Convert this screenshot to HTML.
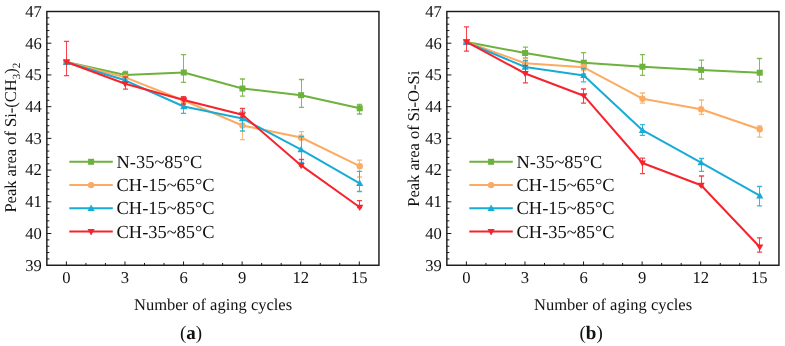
<!DOCTYPE html>
<html><head><meta charset="utf-8"><style>
html,body{margin:0;padding:0;background:#fff;width:785px;height:346px;overflow:hidden}
svg{display:block;will-change:transform}
text{font-family:"Liberation Serif",serif;fill:#111;text-rendering:geometricPrecision}
</style></head><body>
<svg width="785" height="346" viewBox="0 0 785 346" font-family='"Liberation Serif", serif' fill="#111">
<g transform="translate(0,0)">
<path d="M125.50,71.50V77.00" stroke="#6db23c" stroke-width="1.0" stroke-opacity="0.85" fill="none"/><path d="M122.90,71.50H128.10M122.90,77.00H128.10" stroke="#6db23c" stroke-width="1.3" stroke-opacity="0.85" fill="none"/>
<path d="M183.50,54.70V82.40" stroke="#6db23c" stroke-width="1.0" stroke-opacity="0.85" fill="none"/><path d="M180.90,54.70H186.10M180.90,82.40H186.10" stroke="#6db23c" stroke-width="1.3" stroke-opacity="0.85" fill="none"/>
<path d="M242.50,79.00V96.20" stroke="#6db23c" stroke-width="1.0" stroke-opacity="0.85" fill="none"/><path d="M239.90,79.00H245.10M239.90,96.20H245.10" stroke="#6db23c" stroke-width="1.3" stroke-opacity="0.85" fill="none"/>
<path d="M301.50,79.50V107.30" stroke="#6db23c" stroke-width="1.0" stroke-opacity="0.85" fill="none"/><path d="M298.90,79.50H304.10M298.90,107.30H304.10" stroke="#6db23c" stroke-width="1.3" stroke-opacity="0.85" fill="none"/>
<path d="M359.50,104.50V114.00" stroke="#6db23c" stroke-width="1.0" stroke-opacity="0.85" fill="none"/><path d="M356.90,104.50H362.10M356.90,114.00H362.10" stroke="#6db23c" stroke-width="1.3" stroke-opacity="0.85" fill="none"/>
<polyline points="66.50,62.00 125.15,75.00 183.80,72.50 242.45,88.50 301.10,95.20 359.75,108.30" fill="none" stroke="#6db23c" stroke-width="2.0" stroke-linejoin="round"/>
<rect x="63.50" y="59.00" width="6.00" height="6.00" fill="#6db23c"/>
<rect x="122.15" y="72.00" width="6.00" height="6.00" fill="#6db23c"/>
<rect x="180.80" y="69.50" width="6.00" height="6.00" fill="#6db23c"/>
<rect x="239.45" y="85.50" width="6.00" height="6.00" fill="#6db23c"/>
<rect x="298.10" y="92.20" width="6.00" height="6.00" fill="#6db23c"/>
<rect x="356.75" y="105.30" width="6.00" height="6.00" fill="#6db23c"/>
<path d="M183.50,97.50V104.00" stroke="#fbab62" stroke-width="1.0" stroke-opacity="0.85" fill="none"/><path d="M180.90,97.50H186.10M180.90,104.00H186.10" stroke="#fbab62" stroke-width="1.3" stroke-opacity="0.85" fill="none"/>
<path d="M242.50,116.00V139.70" stroke="#fbab62" stroke-width="1.0" stroke-opacity="0.85" fill="none"/><path d="M239.90,116.00H245.10M239.90,139.70H245.10" stroke="#fbab62" stroke-width="1.3" stroke-opacity="0.85" fill="none"/>
<path d="M301.50,131.60V140.00" stroke="#fbab62" stroke-width="1.0" stroke-opacity="0.85" fill="none"/><path d="M298.90,131.60H304.10M298.90,140.00H304.10" stroke="#fbab62" stroke-width="1.3" stroke-opacity="0.85" fill="none"/>
<path d="M359.50,160.10V177.00" stroke="#fbab62" stroke-width="1.0" stroke-opacity="0.85" fill="none"/><path d="M356.90,160.10H362.10M356.90,177.00H362.10" stroke="#fbab62" stroke-width="1.3" stroke-opacity="0.85" fill="none"/>
<polyline points="66.50,62.00 125.15,77.40 183.80,100.50 242.45,125.50 301.10,137.50 359.75,166.20" fill="none" stroke="#fbab62" stroke-width="2.0" stroke-linejoin="round"/>
<circle cx="66.50" cy="62.00" r="3.20" fill="#fbab62"/>
<circle cx="125.15" cy="77.40" r="3.20" fill="#fbab62"/>
<circle cx="183.80" cy="100.50" r="3.20" fill="#fbab62"/>
<circle cx="242.45" cy="125.50" r="3.20" fill="#fbab62"/>
<circle cx="301.10" cy="137.50" r="3.20" fill="#fbab62"/>
<circle cx="359.75" cy="166.20" r="3.20" fill="#fbab62"/>
<path d="M183.50,97.50V113.40" stroke="#17acd6" stroke-width="1.0" stroke-opacity="0.85" fill="none"/><path d="M180.90,97.50H186.10M180.90,113.40H186.10" stroke="#17acd6" stroke-width="1.3" stroke-opacity="0.85" fill="none"/>
<path d="M242.50,111.20V131.00" stroke="#17acd6" stroke-width="1.0" stroke-opacity="0.85" fill="none"/><path d="M239.90,111.20H245.10M239.90,131.00H245.10" stroke="#17acd6" stroke-width="1.3" stroke-opacity="0.85" fill="none"/>
<path d="M301.50,136.60V162.50" stroke="#17acd6" stroke-width="1.0" stroke-opacity="0.85" fill="none"/><path d="M298.90,136.60H304.10M298.90,162.50H304.10" stroke="#17acd6" stroke-width="1.3" stroke-opacity="0.85" fill="none"/>
<path d="M359.50,171.30V191.50" stroke="#17acd6" stroke-width="1.0" stroke-opacity="0.85" fill="none"/><path d="M356.90,171.30H362.10M356.90,191.50H362.10" stroke="#17acd6" stroke-width="1.3" stroke-opacity="0.85" fill="none"/>
<polyline points="66.50,62.30 125.15,80.30 183.80,106.50 242.45,118.50 301.10,149.60 359.75,183.40" fill="none" stroke="#17acd6" stroke-width="2.0" stroke-linejoin="round"/>
<path d="M62.90,65.00L70.10,65.00L66.50,58.60Z" fill="#17acd6"/>
<path d="M121.55,83.00L128.75,83.00L125.15,76.60Z" fill="#17acd6"/>
<path d="M180.20,109.20L187.40,109.20L183.80,102.80Z" fill="#17acd6"/>
<path d="M238.85,121.20L246.05,121.20L242.45,114.80Z" fill="#17acd6"/>
<path d="M297.50,152.30L304.70,152.30L301.10,145.90Z" fill="#17acd6"/>
<path d="M356.15,186.10L363.35,186.10L359.75,179.70Z" fill="#17acd6"/>
<path d="M66.50,41.40V75.60" stroke="#f7232c" stroke-width="1.0" stroke-opacity="0.85" fill="none"/><path d="M63.90,41.40H69.10M63.90,75.60H69.10" stroke="#f7232c" stroke-width="1.3" stroke-opacity="0.85" fill="none"/>
<path d="M125.50,77.00V89.10" stroke="#f7232c" stroke-width="1.0" stroke-opacity="0.85" fill="none"/><path d="M122.90,77.00H128.10M122.90,89.10H128.10" stroke="#f7232c" stroke-width="1.3" stroke-opacity="0.85" fill="none"/>
<path d="M183.50,96.70V104.00" stroke="#f7232c" stroke-width="1.0" stroke-opacity="0.85" fill="none"/><path d="M180.90,96.70H186.10M180.90,104.00H186.10" stroke="#f7232c" stroke-width="1.3" stroke-opacity="0.85" fill="none"/>
<path d="M242.50,108.50V117.00" stroke="#f7232c" stroke-width="1.0" stroke-opacity="0.85" fill="none"/><path d="M239.90,108.50H245.10M239.90,117.00H245.10" stroke="#f7232c" stroke-width="1.3" stroke-opacity="0.85" fill="none"/>
<path d="M301.50,159.50V166.00" stroke="#f7232c" stroke-width="1.0" stroke-opacity="0.85" fill="none"/><path d="M298.90,159.50H304.10M298.90,166.00H304.10" stroke="#f7232c" stroke-width="1.3" stroke-opacity="0.85" fill="none"/>
<path d="M359.50,200.70V207.50" stroke="#f7232c" stroke-width="1.0" stroke-opacity="0.85" fill="none"/><path d="M356.90,200.70H362.10M356.90,207.50H362.10" stroke="#f7232c" stroke-width="1.3" stroke-opacity="0.85" fill="none"/>
<polyline points="66.50,62.00 125.15,83.80 183.80,100.00 242.45,114.80 301.10,165.40 359.75,207.30" fill="none" stroke="#f7232c" stroke-width="2.0" stroke-linejoin="round"/>
<path d="M62.90,59.50L70.10,59.50L66.50,65.80Z" fill="#f7232c"/>
<path d="M121.55,81.30L128.75,81.30L125.15,87.60Z" fill="#f7232c"/>
<path d="M180.20,97.50L187.40,97.50L183.80,103.80Z" fill="#f7232c"/>
<path d="M238.85,112.30L246.05,112.30L242.45,118.60Z" fill="#f7232c"/>
<path d="M297.50,162.90L304.70,162.90L301.10,169.20Z" fill="#f7232c"/>
<path d="M356.15,204.80L363.35,204.80L359.75,211.10Z" fill="#f7232c"/>
<rect x="46.85" y="11.5" width="332.09999999999997" height="253.75" fill="none" stroke="#1a1a1a" stroke-width="1.45"/>
<text x="41.9" y="270.65" text-anchor="end" font-size="16.6">39</text>
<line x1="46.85" y1="258.91" x2="49.35" y2="258.91" stroke="#1a1a1a" stroke-width="1"/>
<line x1="46.85" y1="252.56" x2="49.35" y2="252.56" stroke="#1a1a1a" stroke-width="1"/>
<line x1="46.85" y1="246.22" x2="49.35" y2="246.22" stroke="#1a1a1a" stroke-width="1"/>
<line x1="46.85" y1="239.88" x2="49.35" y2="239.88" stroke="#1a1a1a" stroke-width="1"/>
<line x1="46.85" y1="233.53" x2="51.35" y2="233.53" stroke="#1a1a1a" stroke-width="1"/>
<text x="41.9" y="238.93" text-anchor="end" font-size="16.6">40</text>
<line x1="46.85" y1="227.19" x2="49.35" y2="227.19" stroke="#1a1a1a" stroke-width="1"/>
<line x1="46.85" y1="220.84" x2="49.35" y2="220.84" stroke="#1a1a1a" stroke-width="1"/>
<line x1="46.85" y1="214.50" x2="49.35" y2="214.50" stroke="#1a1a1a" stroke-width="1"/>
<line x1="46.85" y1="208.16" x2="49.35" y2="208.16" stroke="#1a1a1a" stroke-width="1"/>
<line x1="46.85" y1="201.81" x2="51.35" y2="201.81" stroke="#1a1a1a" stroke-width="1"/>
<text x="41.9" y="207.21" text-anchor="end" font-size="16.6">41</text>
<line x1="46.85" y1="195.47" x2="49.35" y2="195.47" stroke="#1a1a1a" stroke-width="1"/>
<line x1="46.85" y1="189.13" x2="49.35" y2="189.13" stroke="#1a1a1a" stroke-width="1"/>
<line x1="46.85" y1="182.78" x2="49.35" y2="182.78" stroke="#1a1a1a" stroke-width="1"/>
<line x1="46.85" y1="176.44" x2="49.35" y2="176.44" stroke="#1a1a1a" stroke-width="1"/>
<line x1="46.85" y1="170.09" x2="51.35" y2="170.09" stroke="#1a1a1a" stroke-width="1"/>
<text x="41.9" y="175.49" text-anchor="end" font-size="16.6">42</text>
<line x1="46.85" y1="163.75" x2="49.35" y2="163.75" stroke="#1a1a1a" stroke-width="1"/>
<line x1="46.85" y1="157.41" x2="49.35" y2="157.41" stroke="#1a1a1a" stroke-width="1"/>
<line x1="46.85" y1="151.06" x2="49.35" y2="151.06" stroke="#1a1a1a" stroke-width="1"/>
<line x1="46.85" y1="144.72" x2="49.35" y2="144.72" stroke="#1a1a1a" stroke-width="1"/>
<line x1="46.85" y1="138.38" x2="51.35" y2="138.38" stroke="#1a1a1a" stroke-width="1"/>
<text x="41.9" y="143.78" text-anchor="end" font-size="16.6">43</text>
<line x1="46.85" y1="132.03" x2="49.35" y2="132.03" stroke="#1a1a1a" stroke-width="1"/>
<line x1="46.85" y1="125.69" x2="49.35" y2="125.69" stroke="#1a1a1a" stroke-width="1"/>
<line x1="46.85" y1="119.34" x2="49.35" y2="119.34" stroke="#1a1a1a" stroke-width="1"/>
<line x1="46.85" y1="113.00" x2="49.35" y2="113.00" stroke="#1a1a1a" stroke-width="1"/>
<line x1="46.85" y1="106.66" x2="51.35" y2="106.66" stroke="#1a1a1a" stroke-width="1"/>
<text x="41.9" y="112.06" text-anchor="end" font-size="16.6">44</text>
<line x1="46.85" y1="100.31" x2="49.35" y2="100.31" stroke="#1a1a1a" stroke-width="1"/>
<line x1="46.85" y1="93.97" x2="49.35" y2="93.97" stroke="#1a1a1a" stroke-width="1"/>
<line x1="46.85" y1="87.62" x2="49.35" y2="87.62" stroke="#1a1a1a" stroke-width="1"/>
<line x1="46.85" y1="81.28" x2="49.35" y2="81.28" stroke="#1a1a1a" stroke-width="1"/>
<line x1="46.85" y1="74.94" x2="51.35" y2="74.94" stroke="#1a1a1a" stroke-width="1"/>
<text x="41.9" y="80.34" text-anchor="end" font-size="16.6">45</text>
<line x1="46.85" y1="68.59" x2="49.35" y2="68.59" stroke="#1a1a1a" stroke-width="1"/>
<line x1="46.85" y1="62.25" x2="49.35" y2="62.25" stroke="#1a1a1a" stroke-width="1"/>
<line x1="46.85" y1="55.91" x2="49.35" y2="55.91" stroke="#1a1a1a" stroke-width="1"/>
<line x1="46.85" y1="49.56" x2="49.35" y2="49.56" stroke="#1a1a1a" stroke-width="1"/>
<line x1="46.85" y1="43.22" x2="51.35" y2="43.22" stroke="#1a1a1a" stroke-width="1"/>
<text x="41.9" y="48.62" text-anchor="end" font-size="16.6">46</text>
<line x1="46.85" y1="36.87" x2="49.35" y2="36.87" stroke="#1a1a1a" stroke-width="1"/>
<line x1="46.85" y1="30.53" x2="49.35" y2="30.53" stroke="#1a1a1a" stroke-width="1"/>
<line x1="46.85" y1="24.19" x2="49.35" y2="24.19" stroke="#1a1a1a" stroke-width="1"/>
<line x1="46.85" y1="17.84" x2="49.35" y2="17.84" stroke="#1a1a1a" stroke-width="1"/>
<text x="41.9" y="16.90" text-anchor="end" font-size="16.6">47</text>
<line x1="66.40" y1="265.25" x2="66.40" y2="261.45" stroke="#1a1a1a" stroke-width="1"/>
<text x="66.40" y="283.0" text-anchor="middle" font-size="16.6">0</text>
<line x1="85.93" y1="265.25" x2="85.93" y2="262.95" stroke="#1a1a1a" stroke-width="1"/>
<line x1="105.45" y1="265.25" x2="105.45" y2="262.95" stroke="#1a1a1a" stroke-width="1"/>
<line x1="124.98" y1="265.25" x2="124.98" y2="261.45" stroke="#1a1a1a" stroke-width="1"/>
<text x="124.98" y="283.0" text-anchor="middle" font-size="16.6">3</text>
<line x1="144.51" y1="265.25" x2="144.51" y2="262.95" stroke="#1a1a1a" stroke-width="1"/>
<line x1="164.04" y1="265.25" x2="164.04" y2="262.95" stroke="#1a1a1a" stroke-width="1"/>
<line x1="183.56" y1="265.25" x2="183.56" y2="261.45" stroke="#1a1a1a" stroke-width="1"/>
<text x="183.56" y="283.0" text-anchor="middle" font-size="16.6">6</text>
<line x1="203.09" y1="265.25" x2="203.09" y2="262.95" stroke="#1a1a1a" stroke-width="1"/>
<line x1="222.62" y1="265.25" x2="222.62" y2="262.95" stroke="#1a1a1a" stroke-width="1"/>
<line x1="242.14" y1="265.25" x2="242.14" y2="261.45" stroke="#1a1a1a" stroke-width="1"/>
<text x="242.14" y="283.0" text-anchor="middle" font-size="16.6">9</text>
<line x1="261.67" y1="265.25" x2="261.67" y2="262.95" stroke="#1a1a1a" stroke-width="1"/>
<line x1="281.20" y1="265.25" x2="281.20" y2="262.95" stroke="#1a1a1a" stroke-width="1"/>
<line x1="300.72" y1="265.25" x2="300.72" y2="261.45" stroke="#1a1a1a" stroke-width="1"/>
<text x="300.72" y="283.0" text-anchor="middle" font-size="16.6">12</text>
<line x1="320.25" y1="265.25" x2="320.25" y2="262.95" stroke="#1a1a1a" stroke-width="1"/>
<line x1="339.78" y1="265.25" x2="339.78" y2="262.95" stroke="#1a1a1a" stroke-width="1"/>
<line x1="359.31" y1="265.25" x2="359.31" y2="261.45" stroke="#1a1a1a" stroke-width="1"/>
<text x="359.31" y="283.0" text-anchor="middle" font-size="16.6">15</text>
<text x="213.1" y="309.6" text-anchor="middle" font-size="16.5">Number of aging cycles</text>
<text x="191.1" y="338.6" text-anchor="middle" font-size="19">(<tspan font-weight="bold">a</tspan>)</text>
<text transform="translate(16,137.7) rotate(-90)" text-anchor="middle" font-size="16.5">Peak area of Si-(CH<tspan font-size="11" dy="3.5">3</tspan><tspan dy="-3.5">)</tspan><tspan font-size="11" dy="3.5">2</tspan></text>
<line x1="69.3" y1="161.8" x2="112.8" y2="161.8" stroke="#6db23c" stroke-width="2.0"/>
<rect x="88.10" y="158.80" width="6.00" height="6.00" fill="#6db23c"/>
<text x="116.6" y="167.90" font-size="18.4">N-35~85°C</text>
<line x1="69.3" y1="185.1" x2="112.8" y2="185.1" stroke="#fbab62" stroke-width="2.0"/>
<circle cx="91.10" cy="185.10" r="3.20" fill="#fbab62"/>
<text x="116.6" y="191.20" font-size="18.4">CH-15~65°C</text>
<line x1="69.3" y1="208.3" x2="112.8" y2="208.3" stroke="#17acd6" stroke-width="2.0"/>
<path d="M87.50,211.00L94.70,211.00L91.10,204.60Z" fill="#17acd6"/>
<text x="116.6" y="214.40" font-size="18.4">CH-15~85°C</text>
<line x1="69.3" y1="231.6" x2="112.8" y2="231.6" stroke="#f7232c" stroke-width="2.0"/>
<path d="M87.50,229.10L94.70,229.10L91.10,235.40Z" fill="#f7232c"/>
<text x="116.6" y="237.70" font-size="18.4">CH-35~85°C</text>
</g>
<g transform="translate(400,0)">
<path d="M125.50,47.20V58.00" stroke="#6db23c" stroke-width="1.0" stroke-opacity="0.85" fill="none"/><path d="M122.90,47.20H128.10M122.90,58.00H128.10" stroke="#6db23c" stroke-width="1.3" stroke-opacity="0.85" fill="none"/>
<path d="M183.50,52.60V74.00" stroke="#6db23c" stroke-width="1.0" stroke-opacity="0.85" fill="none"/><path d="M180.90,52.60H186.10M180.90,74.00H186.10" stroke="#6db23c" stroke-width="1.3" stroke-opacity="0.85" fill="none"/>
<path d="M242.50,54.60V75.40" stroke="#6db23c" stroke-width="1.0" stroke-opacity="0.85" fill="none"/><path d="M239.90,54.60H245.10M239.90,75.40H245.10" stroke="#6db23c" stroke-width="1.3" stroke-opacity="0.85" fill="none"/>
<path d="M301.50,60.20V79.00" stroke="#6db23c" stroke-width="1.0" stroke-opacity="0.85" fill="none"/><path d="M298.90,60.20H304.10M298.90,79.00H304.10" stroke="#6db23c" stroke-width="1.3" stroke-opacity="0.85" fill="none"/>
<path d="M359.50,58.50V81.80" stroke="#6db23c" stroke-width="1.0" stroke-opacity="0.85" fill="none"/><path d="M356.90,58.50H362.10M356.90,81.80H362.10" stroke="#6db23c" stroke-width="1.3" stroke-opacity="0.85" fill="none"/>
<polyline points="66.50,42.00 125.15,53.00 183.80,62.70 242.45,66.70 301.10,69.90 359.75,72.70" fill="none" stroke="#6db23c" stroke-width="2.0" stroke-linejoin="round"/>
<rect x="63.50" y="39.00" width="6.00" height="6.00" fill="#6db23c"/>
<rect x="122.15" y="50.00" width="6.00" height="6.00" fill="#6db23c"/>
<rect x="180.80" y="59.70" width="6.00" height="6.00" fill="#6db23c"/>
<rect x="239.45" y="63.70" width="6.00" height="6.00" fill="#6db23c"/>
<rect x="298.10" y="66.90" width="6.00" height="6.00" fill="#6db23c"/>
<rect x="356.75" y="69.70" width="6.00" height="6.00" fill="#6db23c"/>
<path d="M125.50,58.00V66.00" stroke="#fbab62" stroke-width="1.0" stroke-opacity="0.85" fill="none"/><path d="M122.90,58.00H128.10M122.90,66.00H128.10" stroke="#fbab62" stroke-width="1.3" stroke-opacity="0.85" fill="none"/>
<path d="M183.50,64.50V70.50" stroke="#fbab62" stroke-width="1.0" stroke-opacity="0.85" fill="none"/><path d="M180.90,64.50H186.10M180.90,70.50H186.10" stroke="#fbab62" stroke-width="1.3" stroke-opacity="0.85" fill="none"/>
<path d="M242.50,93.00V103.20" stroke="#fbab62" stroke-width="1.0" stroke-opacity="0.85" fill="none"/><path d="M239.90,93.00H245.10M239.90,103.20H245.10" stroke="#fbab62" stroke-width="1.3" stroke-opacity="0.85" fill="none"/>
<path d="M301.50,100.00V114.40" stroke="#fbab62" stroke-width="1.0" stroke-opacity="0.85" fill="none"/><path d="M298.90,100.00H304.10M298.90,114.40H304.10" stroke="#fbab62" stroke-width="1.3" stroke-opacity="0.85" fill="none"/>
<path d="M359.50,126.00V137.20" stroke="#fbab62" stroke-width="1.0" stroke-opacity="0.85" fill="none"/><path d="M356.90,126.00H362.10M356.90,137.20H362.10" stroke="#fbab62" stroke-width="1.3" stroke-opacity="0.85" fill="none"/>
<polyline points="66.50,42.00 125.15,63.20 183.80,67.30 242.45,98.70 301.10,109.20 359.75,129.30" fill="none" stroke="#fbab62" stroke-width="2.0" stroke-linejoin="round"/>
<circle cx="66.50" cy="42.00" r="3.20" fill="#fbab62"/>
<circle cx="125.15" cy="63.20" r="3.20" fill="#fbab62"/>
<circle cx="183.80" cy="67.30" r="3.20" fill="#fbab62"/>
<circle cx="242.45" cy="98.70" r="3.20" fill="#fbab62"/>
<circle cx="301.10" cy="109.20" r="3.20" fill="#fbab62"/>
<circle cx="359.75" cy="129.30" r="3.20" fill="#fbab62"/>
<path d="M125.50,60.30V73.00" stroke="#17acd6" stroke-width="1.0" stroke-opacity="0.85" fill="none"/><path d="M122.90,60.30H128.10M122.90,73.00H128.10" stroke="#17acd6" stroke-width="1.3" stroke-opacity="0.85" fill="none"/>
<path d="M183.50,68.50V81.80" stroke="#17acd6" stroke-width="1.0" stroke-opacity="0.85" fill="none"/><path d="M180.90,68.50H186.10M180.90,81.80H186.10" stroke="#17acd6" stroke-width="1.3" stroke-opacity="0.85" fill="none"/>
<path d="M242.50,124.60V135.30" stroke="#17acd6" stroke-width="1.0" stroke-opacity="0.85" fill="none"/><path d="M239.90,124.60H245.10M239.90,135.30H245.10" stroke="#17acd6" stroke-width="1.3" stroke-opacity="0.85" fill="none"/>
<path d="M301.50,158.50V171.30" stroke="#17acd6" stroke-width="1.0" stroke-opacity="0.85" fill="none"/><path d="M298.90,158.50H304.10M298.90,171.30H304.10" stroke="#17acd6" stroke-width="1.3" stroke-opacity="0.85" fill="none"/>
<path d="M359.50,186.50V205.90" stroke="#17acd6" stroke-width="1.0" stroke-opacity="0.85" fill="none"/><path d="M356.90,186.50H362.10M356.90,205.90H362.10" stroke="#17acd6" stroke-width="1.3" stroke-opacity="0.85" fill="none"/>
<polyline points="66.50,42.30 125.15,67.00 183.80,75.40 242.45,130.20 301.10,162.60 359.75,195.70" fill="none" stroke="#17acd6" stroke-width="2.0" stroke-linejoin="round"/>
<path d="M62.90,45.00L70.10,45.00L66.50,38.60Z" fill="#17acd6"/>
<path d="M121.55,69.70L128.75,69.70L125.15,63.30Z" fill="#17acd6"/>
<path d="M180.20,78.10L187.40,78.10L183.80,71.70Z" fill="#17acd6"/>
<path d="M238.85,132.90L246.05,132.90L242.45,126.50Z" fill="#17acd6"/>
<path d="M297.50,165.30L304.70,165.30L301.10,158.90Z" fill="#17acd6"/>
<path d="M356.15,198.40L363.35,198.40L359.75,192.00Z" fill="#17acd6"/>
<path d="M66.50,26.90V51.20" stroke="#f7232c" stroke-width="1.0" stroke-opacity="0.85" fill="none"/><path d="M63.90,26.90H69.10M63.90,51.20H69.10" stroke="#f7232c" stroke-width="1.3" stroke-opacity="0.85" fill="none"/>
<path d="M125.50,65.70V82.90" stroke="#f7232c" stroke-width="1.0" stroke-opacity="0.85" fill="none"/><path d="M122.90,65.70H128.10M122.90,82.90H128.10" stroke="#f7232c" stroke-width="1.3" stroke-opacity="0.85" fill="none"/>
<path d="M183.50,89.00V103.20" stroke="#f7232c" stroke-width="1.0" stroke-opacity="0.85" fill="none"/><path d="M180.90,89.00H186.10M180.90,103.20H186.10" stroke="#f7232c" stroke-width="1.3" stroke-opacity="0.85" fill="none"/>
<path d="M242.50,158.20V173.60" stroke="#f7232c" stroke-width="1.0" stroke-opacity="0.85" fill="none"/><path d="M239.90,158.20H245.10M239.90,173.60H245.10" stroke="#f7232c" stroke-width="1.3" stroke-opacity="0.85" fill="none"/>
<path d="M301.50,176.00V186.00" stroke="#f7232c" stroke-width="1.0" stroke-opacity="0.85" fill="none"/><path d="M298.90,176.00H304.10M298.90,186.00H304.10" stroke="#f7232c" stroke-width="1.3" stroke-opacity="0.85" fill="none"/>
<path d="M359.50,237.80V252.10" stroke="#f7232c" stroke-width="1.0" stroke-opacity="0.85" fill="none"/><path d="M356.90,237.80H362.10M356.90,252.10H362.10" stroke="#f7232c" stroke-width="1.3" stroke-opacity="0.85" fill="none"/>
<polyline points="66.50,41.80 125.15,73.50 183.80,95.70 242.45,163.00 301.10,185.30 359.75,247.00" fill="none" stroke="#f7232c" stroke-width="2.0" stroke-linejoin="round"/>
<path d="M62.90,39.30L70.10,39.30L66.50,45.60Z" fill="#f7232c"/>
<path d="M121.55,71.00L128.75,71.00L125.15,77.30Z" fill="#f7232c"/>
<path d="M180.20,93.20L187.40,93.20L183.80,99.50Z" fill="#f7232c"/>
<path d="M238.85,160.50L246.05,160.50L242.45,166.80Z" fill="#f7232c"/>
<path d="M297.50,182.80L304.70,182.80L301.10,189.10Z" fill="#f7232c"/>
<path d="M356.15,244.50L363.35,244.50L359.75,250.80Z" fill="#f7232c"/>
<rect x="46.85" y="11.5" width="332.09999999999997" height="253.75" fill="none" stroke="#1a1a1a" stroke-width="1.45"/>
<text x="41.9" y="270.65" text-anchor="end" font-size="16.6">39</text>
<line x1="46.85" y1="258.91" x2="49.35" y2="258.91" stroke="#1a1a1a" stroke-width="1"/>
<line x1="46.85" y1="252.56" x2="49.35" y2="252.56" stroke="#1a1a1a" stroke-width="1"/>
<line x1="46.85" y1="246.22" x2="49.35" y2="246.22" stroke="#1a1a1a" stroke-width="1"/>
<line x1="46.85" y1="239.88" x2="49.35" y2="239.88" stroke="#1a1a1a" stroke-width="1"/>
<line x1="46.85" y1="233.53" x2="51.35" y2="233.53" stroke="#1a1a1a" stroke-width="1"/>
<text x="41.9" y="238.93" text-anchor="end" font-size="16.6">40</text>
<line x1="46.85" y1="227.19" x2="49.35" y2="227.19" stroke="#1a1a1a" stroke-width="1"/>
<line x1="46.85" y1="220.84" x2="49.35" y2="220.84" stroke="#1a1a1a" stroke-width="1"/>
<line x1="46.85" y1="214.50" x2="49.35" y2="214.50" stroke="#1a1a1a" stroke-width="1"/>
<line x1="46.85" y1="208.16" x2="49.35" y2="208.16" stroke="#1a1a1a" stroke-width="1"/>
<line x1="46.85" y1="201.81" x2="51.35" y2="201.81" stroke="#1a1a1a" stroke-width="1"/>
<text x="41.9" y="207.21" text-anchor="end" font-size="16.6">41</text>
<line x1="46.85" y1="195.47" x2="49.35" y2="195.47" stroke="#1a1a1a" stroke-width="1"/>
<line x1="46.85" y1="189.13" x2="49.35" y2="189.13" stroke="#1a1a1a" stroke-width="1"/>
<line x1="46.85" y1="182.78" x2="49.35" y2="182.78" stroke="#1a1a1a" stroke-width="1"/>
<line x1="46.85" y1="176.44" x2="49.35" y2="176.44" stroke="#1a1a1a" stroke-width="1"/>
<line x1="46.85" y1="170.09" x2="51.35" y2="170.09" stroke="#1a1a1a" stroke-width="1"/>
<text x="41.9" y="175.49" text-anchor="end" font-size="16.6">42</text>
<line x1="46.85" y1="163.75" x2="49.35" y2="163.75" stroke="#1a1a1a" stroke-width="1"/>
<line x1="46.85" y1="157.41" x2="49.35" y2="157.41" stroke="#1a1a1a" stroke-width="1"/>
<line x1="46.85" y1="151.06" x2="49.35" y2="151.06" stroke="#1a1a1a" stroke-width="1"/>
<line x1="46.85" y1="144.72" x2="49.35" y2="144.72" stroke="#1a1a1a" stroke-width="1"/>
<line x1="46.85" y1="138.38" x2="51.35" y2="138.38" stroke="#1a1a1a" stroke-width="1"/>
<text x="41.9" y="143.78" text-anchor="end" font-size="16.6">43</text>
<line x1="46.85" y1="132.03" x2="49.35" y2="132.03" stroke="#1a1a1a" stroke-width="1"/>
<line x1="46.85" y1="125.69" x2="49.35" y2="125.69" stroke="#1a1a1a" stroke-width="1"/>
<line x1="46.85" y1="119.34" x2="49.35" y2="119.34" stroke="#1a1a1a" stroke-width="1"/>
<line x1="46.85" y1="113.00" x2="49.35" y2="113.00" stroke="#1a1a1a" stroke-width="1"/>
<line x1="46.85" y1="106.66" x2="51.35" y2="106.66" stroke="#1a1a1a" stroke-width="1"/>
<text x="41.9" y="112.06" text-anchor="end" font-size="16.6">44</text>
<line x1="46.85" y1="100.31" x2="49.35" y2="100.31" stroke="#1a1a1a" stroke-width="1"/>
<line x1="46.85" y1="93.97" x2="49.35" y2="93.97" stroke="#1a1a1a" stroke-width="1"/>
<line x1="46.85" y1="87.62" x2="49.35" y2="87.62" stroke="#1a1a1a" stroke-width="1"/>
<line x1="46.85" y1="81.28" x2="49.35" y2="81.28" stroke="#1a1a1a" stroke-width="1"/>
<line x1="46.85" y1="74.94" x2="51.35" y2="74.94" stroke="#1a1a1a" stroke-width="1"/>
<text x="41.9" y="80.34" text-anchor="end" font-size="16.6">45</text>
<line x1="46.85" y1="68.59" x2="49.35" y2="68.59" stroke="#1a1a1a" stroke-width="1"/>
<line x1="46.85" y1="62.25" x2="49.35" y2="62.25" stroke="#1a1a1a" stroke-width="1"/>
<line x1="46.85" y1="55.91" x2="49.35" y2="55.91" stroke="#1a1a1a" stroke-width="1"/>
<line x1="46.85" y1="49.56" x2="49.35" y2="49.56" stroke="#1a1a1a" stroke-width="1"/>
<line x1="46.85" y1="43.22" x2="51.35" y2="43.22" stroke="#1a1a1a" stroke-width="1"/>
<text x="41.9" y="48.62" text-anchor="end" font-size="16.6">46</text>
<line x1="46.85" y1="36.87" x2="49.35" y2="36.87" stroke="#1a1a1a" stroke-width="1"/>
<line x1="46.85" y1="30.53" x2="49.35" y2="30.53" stroke="#1a1a1a" stroke-width="1"/>
<line x1="46.85" y1="24.19" x2="49.35" y2="24.19" stroke="#1a1a1a" stroke-width="1"/>
<line x1="46.85" y1="17.84" x2="49.35" y2="17.84" stroke="#1a1a1a" stroke-width="1"/>
<text x="41.9" y="16.90" text-anchor="end" font-size="16.6">47</text>
<line x1="66.40" y1="265.25" x2="66.40" y2="261.45" stroke="#1a1a1a" stroke-width="1"/>
<text x="66.40" y="283.0" text-anchor="middle" font-size="16.6">0</text>
<line x1="85.93" y1="265.25" x2="85.93" y2="262.95" stroke="#1a1a1a" stroke-width="1"/>
<line x1="105.45" y1="265.25" x2="105.45" y2="262.95" stroke="#1a1a1a" stroke-width="1"/>
<line x1="124.98" y1="265.25" x2="124.98" y2="261.45" stroke="#1a1a1a" stroke-width="1"/>
<text x="124.98" y="283.0" text-anchor="middle" font-size="16.6">3</text>
<line x1="144.51" y1="265.25" x2="144.51" y2="262.95" stroke="#1a1a1a" stroke-width="1"/>
<line x1="164.04" y1="265.25" x2="164.04" y2="262.95" stroke="#1a1a1a" stroke-width="1"/>
<line x1="183.56" y1="265.25" x2="183.56" y2="261.45" stroke="#1a1a1a" stroke-width="1"/>
<text x="183.56" y="283.0" text-anchor="middle" font-size="16.6">6</text>
<line x1="203.09" y1="265.25" x2="203.09" y2="262.95" stroke="#1a1a1a" stroke-width="1"/>
<line x1="222.62" y1="265.25" x2="222.62" y2="262.95" stroke="#1a1a1a" stroke-width="1"/>
<line x1="242.14" y1="265.25" x2="242.14" y2="261.45" stroke="#1a1a1a" stroke-width="1"/>
<text x="242.14" y="283.0" text-anchor="middle" font-size="16.6">9</text>
<line x1="261.67" y1="265.25" x2="261.67" y2="262.95" stroke="#1a1a1a" stroke-width="1"/>
<line x1="281.20" y1="265.25" x2="281.20" y2="262.95" stroke="#1a1a1a" stroke-width="1"/>
<line x1="300.72" y1="265.25" x2="300.72" y2="261.45" stroke="#1a1a1a" stroke-width="1"/>
<text x="300.72" y="283.0" text-anchor="middle" font-size="16.6">12</text>
<line x1="320.25" y1="265.25" x2="320.25" y2="262.95" stroke="#1a1a1a" stroke-width="1"/>
<line x1="339.78" y1="265.25" x2="339.78" y2="262.95" stroke="#1a1a1a" stroke-width="1"/>
<line x1="359.31" y1="265.25" x2="359.31" y2="261.45" stroke="#1a1a1a" stroke-width="1"/>
<text x="359.31" y="283.0" text-anchor="middle" font-size="16.6">15</text>
<text x="213.1" y="309.6" text-anchor="middle" font-size="16.5">Number of aging cycles</text>
<text x="191.1" y="338.6" text-anchor="middle" font-size="19">(<tspan font-weight="bold">b</tspan>)</text>
<text transform="translate(19.4,138.75) rotate(-90)" text-anchor="middle" font-size="16.5">Peak area of Si-O-Si</text>
<line x1="69.3" y1="161.8" x2="112.8" y2="161.8" stroke="#6db23c" stroke-width="2.0"/>
<rect x="88.10" y="158.80" width="6.00" height="6.00" fill="#6db23c"/>
<text x="116.6" y="167.90" font-size="18.4">N-35~85°C</text>
<line x1="69.3" y1="185.1" x2="112.8" y2="185.1" stroke="#fbab62" stroke-width="2.0"/>
<circle cx="91.10" cy="185.10" r="3.20" fill="#fbab62"/>
<text x="116.6" y="191.20" font-size="18.4">CH-15~65°C</text>
<line x1="69.3" y1="208.3" x2="112.8" y2="208.3" stroke="#17acd6" stroke-width="2.0"/>
<path d="M87.50,211.00L94.70,211.00L91.10,204.60Z" fill="#17acd6"/>
<text x="116.6" y="214.40" font-size="18.4">CH-15~85°C</text>
<line x1="69.3" y1="231.6" x2="112.8" y2="231.6" stroke="#f7232c" stroke-width="2.0"/>
<path d="M87.50,229.10L94.70,229.10L91.10,235.40Z" fill="#f7232c"/>
<text x="116.6" y="237.70" font-size="18.4">CH-35~85°C</text>
</g>
</svg>
</body></html>
